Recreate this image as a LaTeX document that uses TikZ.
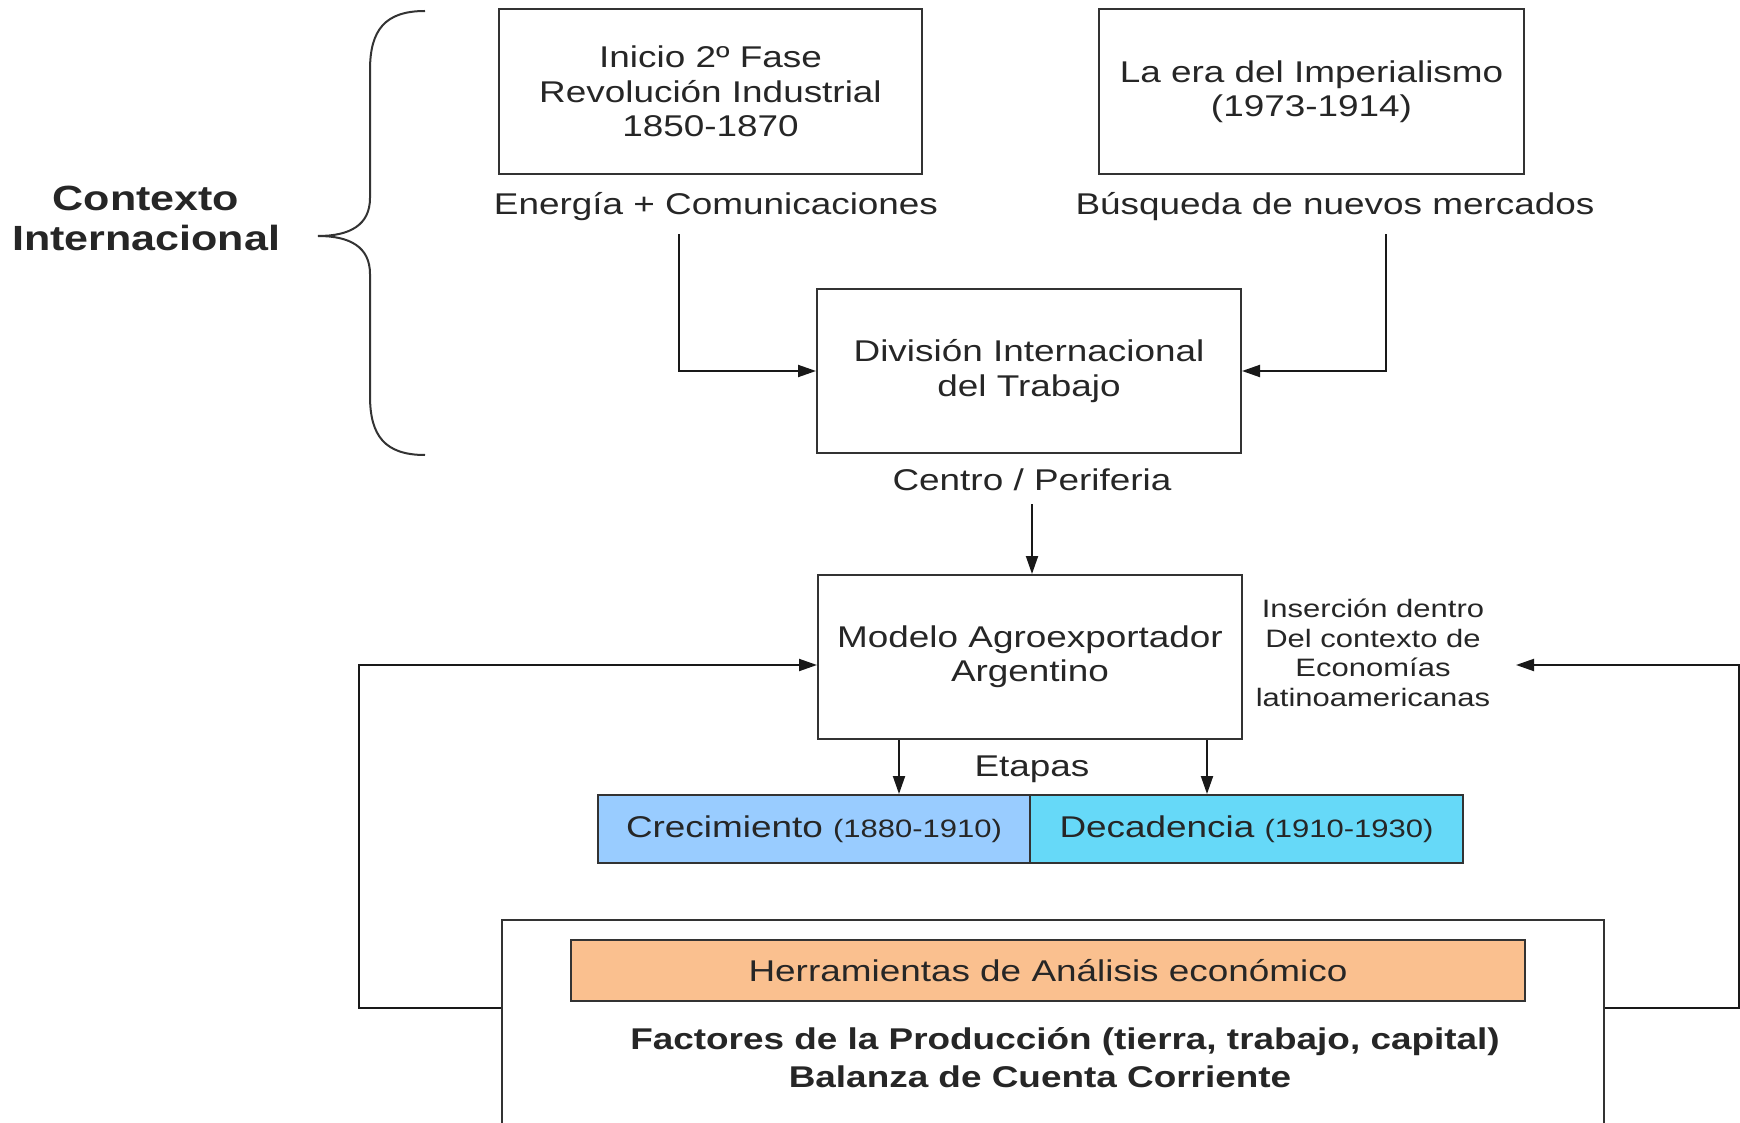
\documentclass[tikz,border=0pt]{standalone}
\usepackage{fontspec}
\setmainfont{Liberation Sans}[FakeStretch=1.23]
\usetikzlibrary{arrows.meta}
\definecolor{azulclaro}{HTML}{99CCFF}
\definecolor{celeste}{HTML}{66D9F8}
\definecolor{durazno}{HTML}{FAC08F}
\newcommand{\menor}{\fontsize{12.6pt}{14.8pt}\selectfont}
\begin{document}
\begin{tikzpicture}[x=0.5pt, y=-0.5pt, line width=1pt,
	>={Triangle[length=9pt,width=6pt]},
	texto/.style={inner sep=0pt, align=center, text=black!85, font=\fontsize{15pt}{17.2pt}\selectfont},
	recuadro/.style={texto, draw=black!80},
	flecha/.style={->, draw=black!90}]
	\useasboundingbox (0,0) rectangle (1740,1123);
	% contexto internacional
	\node[texto, font=\fontsize{17.5pt}{20pt}\selectfont\bfseries] (contexto) at (146,218) {Contexto\\Internacional};
	\draw[black!80] (425,11) .. controls (385,11) and (370,30) .. (370,70) -- (370,198)
		.. controls (370,225) and (350,236) .. (318,236)
		.. controls (350,236) and (370,247) .. (370,274) -- (370,396)
		.. controls (370,436) and (385,455) .. (425,455);
	\node[recuadro, minimum width=211.5pt, minimum height=82.5pt] (fase) at (710.5,91.5) {Inicio 2º Fase\\Revolución Industrial\\1850-1870};
	\node[recuadro, minimum width=212.5pt, minimum height=82.5pt] (imperio) at (1311.5,91.5) {La era del Imperialismo\\(1973-1914)};
	\node[texto] (energia) at (716,207) {Energía + Comunicaciones};
	\node[texto] (busqueda) at (1335,207) {Búsqueda de nuevos mercados};
	\node[recuadro, minimum width=212pt, minimum height=82pt] (division) at (1029,371) {División Internacional\\del Trabajo};
	\node[texto] (centro) at (1032,480) {Centro / Periferia};
	\node[recuadro, minimum width=212pt, minimum height=82pt] (modelo) at (1030,657) {Modelo Agroexportador\\Argentino};
	\node[texto, font=\menor] (insercion) at (1373,653) {Inserción dentro\\Del contexto de\\Economías\\latinoamericanas};
	\node[texto] (etapas) at (1032,769) {Etapas};
	% etapas
	\node[recuadro, fill=azulclaro, minimum width=216pt, minimum height=34pt] (crec) at (814,829) {Crecimiento {\menor (1880-1910)}};
	\node[recuadro, fill=celeste, minimum width=216.5pt, minimum height=34pt] (deca) at (1246.5,829) {Decadencia {\menor (1910-1930)}};
	% herramientas
	\node[recuadro, anchor=north, minimum width=551pt, minimum height=150pt] (caja) at (1053,919) {};
	\node[recuadro, fill=durazno, minimum width=477pt, minimum height=30.5pt] (herram) at (1048,970.5) {Herramientas de Análisis económico};
	\node[texto, font=\fontsize{15pt}{17.2pt}\selectfont\bfseries] (factores) at (1065,1042) {Factores de la Producción (tierra, trabajo, capital)};
	\node[texto, font=\fontsize{15pt}{17.2pt}\selectfont\bfseries] (balanza) at (1040,1077) {Balanza de Cuenta Corriente};
	\coordinate (rin) at (1516,665);
	% conectores
	\draw[flecha] ([xshift=-18.5pt,yshift=-6pt]energia.south) |- (division.west);
	\draw[flecha] ([xshift=25.5pt,yshift=-6pt]busqueda.south) |- (division.east);
	\coordinate (c) at ([yshift=-6pt]centro.south);
	\draw[flecha] (c) -- (c |- modelo.north);
	\foreach \dx in {-65.5,88.5}
	{
		\coordinate (e) at ([xshift=\dx pt]modelo.south);
		\draw[flecha] (e) -- (e |- crec.north);
	}
	\draw[flecha] ([yshift=-44.5pt]caja.north west) -- ++(-142,0) |- ([yshift=-4pt]modelo.west);
	\draw[flecha] ([yshift=-44.5pt]caja.north east) -- ++(134,0) |- (rin);
\end{tikzpicture}
\end{document}
